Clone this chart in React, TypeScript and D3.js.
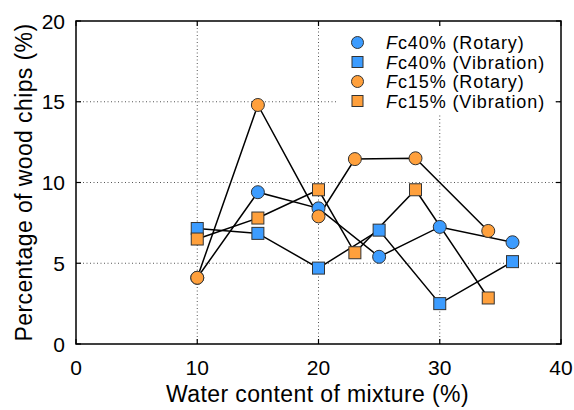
import React from "react";
import * as d3 from "d3";

const xTicks = [0, 10, 20, 30, 40];
const yTicks = [0, 5, 10, 15, 20];

const fc40RotaryX = [10, 15, 20, 25, 30, 36];
const fc40RotaryY = [4.1, 9.4, 8.4, 5.4, 7.25, 6.3];
const fc40VibX = [10, 15, 20, 25, 30, 36];
const fc40VibY = [7.15, 6.85, 4.7, 7.05, 2.5, 5.1];
const fc15RotaryX = [10, 15, 20, 23, 28, 34];
const fc15RotaryY = [4.1, 14.8, 7.9, 11.45, 11.5, 7.0];
const fc15VibX = [10, 15, 20, 23, 28, 34];
const fc15VibY = [6.5, 7.8, 9.55, 5.65, 9.55, 2.85];

const seriesNames = ["Fc40% (Rotary)", "Fc40% (Vibration)", "Fc15% (Rotary)", "Fc15% (Vibration)"];

const BLUE = "#3c9cff";
const ORANGE = "#ffa03c";

export default function App() {
  const W = 574, H = 410;
  const left = 76, right = 561, top = 21, bottom = 344;
  const x = d3.scaleLinear().domain([0, 40]).range([left, right]);
  const y = d3.scaleLinear().domain([0, 20]).range([bottom, top]);

  const series = [
    { name: seriesNames[0], xs: fc40RotaryX, ys: fc40RotaryY, color: BLUE, shape: "circle" },
    { name: seriesNames[1], xs: fc40VibX, ys: fc40VibY, color: BLUE, shape: "square" },
    { name: seriesNames[2], xs: fc15RotaryX, ys: fc15RotaryY, color: ORANGE, shape: "circle" },
    { name: seriesNames[3], xs: fc15VibX, ys: fc15VibY, color: ORANGE, shape: "square" },
  ];

  const line = d3.line<[number, number]>().x((d) => x(d[0])).y((d) => y(d[1]));
  const font = "'Liberation Sans', Arial, Helvetica, sans-serif";

  const marker = (shape: string, cx: number, cy: number, color: string, key: string, r = 6.5) =>
    shape === "circle" ? (
      <circle key={key} cx={cx} cy={cy} r={r} fill={color} stroke="#333" strokeWidth={1} />
    ) : (
      <rect key={key} x={cx - r + 0.5} y={cy - r + 0.5} width={2 * r - 1} height={2 * r - 1} fill={color} stroke="#333" strokeWidth={1} />
    );

  const legX = 338, legY = 28, legW = 216, legH = 86;
  const rowY = [42.5, 62, 81.5, 101];

  return (
    <svg width={W} height={H} style={{ position: "absolute", left: 0, top: 0, background: "#fff" }} fontFamily={font}>
      <rect x={0} y={0} width={W} height={H} fill="#fff" />
      {/* grid */}
      {xTicks.filter((t) => t > 0 && t < 40).map((t) => (
        <line key={"gx" + t} x1={x(t)} x2={x(t)} y1={top} y2={bottom} stroke="#555" strokeWidth={1} strokeDasharray="1,2.5" />
      ))}
      {yTicks.filter((t) => t > 0 && t < 20).map((t) => (
        <line key={"gy" + t} x1={left} x2={right} y1={y(t)} y2={y(t)} stroke="#555" strokeWidth={1} strokeDasharray="1,2.5" />
      ))}
      {/* legend background */}
      <rect x={legX} y={legY} width={legW} height={legH} fill="#fff" />
      {/* lines */}
      {series.map((s) => (
        <path key={"l" + s.name} d={line(s.xs.map((v, i) => [v, s.ys[i]]) as [number, number][]) || ""} fill="none" stroke="#000" strokeWidth={1.5} />
      ))}
      {/* markers */}
      {series.map((s) => (
        <g key={"m" + s.name}>
          {s.xs.map((v, i) => marker(s.shape, x(v), y(s.ys[i]), s.color, s.name + i))}
        </g>
      ))}
      {/* frame */}
      <rect x={left} y={top} width={right - left} height={bottom - top} fill="none" stroke="#000" strokeWidth={1.5} />
      {/* ticks */}
      {xTicks.map((t) => (
        <g key={"tx" + t}>
          <line x1={x(t)} x2={x(t)} y1={bottom} y2={bottom - 5} stroke="#000" strokeWidth={1.2} />
          <line x1={x(t)} x2={x(t)} y1={top} y2={top + 5} stroke="#000" strokeWidth={1.2} />
          <text x={x(t)} y={375} textAnchor="middle" fontSize={21} fill="#000">{t}</text>
        </g>
      ))}
      {yTicks.map((t) => (
        <g key={"ty" + t}>
          <line x1={left} x2={left + 5} y1={y(t)} y2={y(t)} stroke="#000" strokeWidth={1.2} />
          <line x1={right} x2={right - 5} y1={y(t)} y2={y(t)} stroke="#000" strokeWidth={1.2} />
          <text x={65} y={y(t) + 7.5} textAnchor="end" fontSize={21} fill="#000">{t}</text>
        </g>
      ))}
      {/* axis titles */}
      <text x={(left + right) / 2 - 1} y={402} textAnchor="middle" fontSize={23} letterSpacing={0.4} fill="#000">Water content of mixture (%)</text>
      <text transform={`translate(32, ${(top + bottom) / 2}) rotate(-90)`} textAnchor="middle" fontSize={23} letterSpacing={0.4} fill="#000">Percentage of wood chips (%)</text>
      {/* legend */}
      {series.map((s, i) => (
        <g key={"lg" + s.name}>
          {marker(s.shape, 357.5, rowY[i], s.color, "lgm" + i, 6)}
          <text x={386} y={rowY[i] + 6.5} fontSize={18} letterSpacing={0.9} fill="#000">
            <tspan fontStyle="italic">F</tspan>
            {s.name.slice(1)}
          </text>
        </g>
      ))}
    </svg>
  );
}
